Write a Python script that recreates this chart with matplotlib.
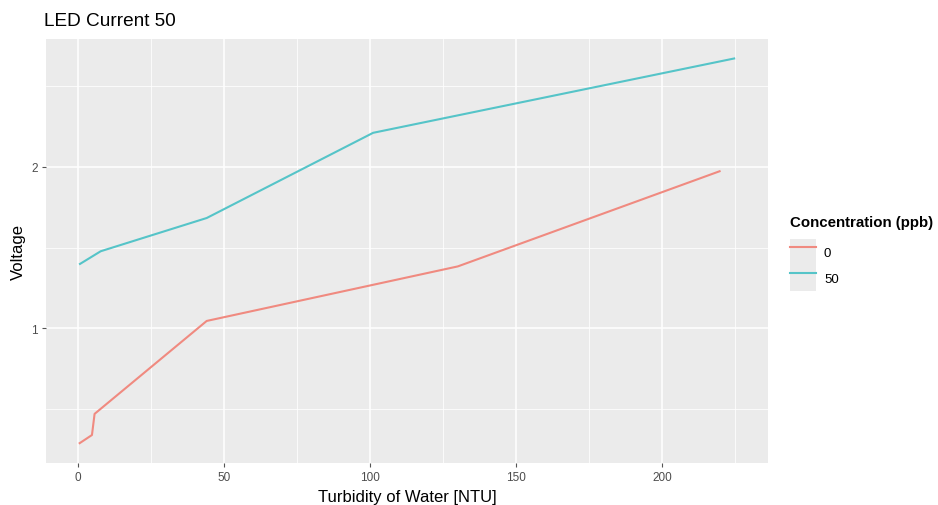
import matplotlib.pyplot as plt
from matplotlib.patches import Rectangle
from matplotlib.lines import Line2D
from matplotlib.legend_handler import HandlerTuple

# turbidity [NTU] and voltage
turb_0 = [0.2, 4.7, 5.6, 44, 130, 220]
volt_0 = [0.284, 0.338, 0.469, 1.045, 1.383, 1.975]
turb_50 = [0.3, 7.7, 44, 101, 225]
volt_50 = [1.395, 1.477, 1.683, 2.211, 2.673]

series_labels = ["0", "50"]
series_colors = ["#F08A80", "#55C4C8"]

x_ticks = [0, 50, 100, 150, 200]
x_minor = [25, 75, 125, 175, 225]
y_ticks = [1, 2]
y_minor = [0.5, 1.5, 2.5]

plt.rcParams['font.family'] = ['Liberation Sans', 'DejaVu Sans']

fig = plt.figure(figsize=(9.38, 5.06), dpi=100)
ax = fig.add_axes([46 / 938, 42 / 506, 722 / 938, 424 / 506])
ax.set_facecolor("#EBEBEB")

# ------ LINES -------
lines = []
for xs, ys, col in [(turb_0, volt_0, series_colors[0]), (turb_50, volt_50, series_colors[1])]:
    ln, = ax.plot(xs, ys, color=col, lw=1.5, solid_capstyle="butt", zorder=3)
    lines.append(ln)

ax.margins(x=0.05, y=0.05)

# ------ GRID / TICKS (ggplot grey theme look) -------
ax.set_xticks(x_ticks)
ax.set_xticks(x_minor, minor=True)
ax.set_yticks(y_ticks)
ax.set_yticks(y_minor, minor=True)
ax.set_yticklabels([str(v) for v in y_ticks])
ax.grid(which="major", color="white", lw=1.1, zorder=1)
ax.grid(which="minor", color="white", lw=0.55, zorder=1)
ax.set_axisbelow(True)
for sp in ax.spines.values():
    sp.set_visible(False)
ax.tick_params(which="major", length=3, width=0.8, color="#555555",
               labelsize=8.5, labelcolor="#4D4D4D", pad=3)
ax.tick_params(which="minor", length=0)

ax.set_xlabel("Turbidity of Water [NTU]", fontsize=12, labelpad=4)
ax.set_ylabel("Voltage", fontsize=12, labelpad=3.5)
fig.text(44 / 938, 1 - 22 / 506, "LED Current 50", fontsize=13.7, va="center", ha="left")

# ------ LEGEND -------
handles = []
for ln in lines:
    bg = Rectangle((0, 0), 1, 1, facecolor="#EBEBEB", edgecolor="none")
    key = Line2D([], [], color=ln.get_color(), lw=1.5)
    handles.append((bg, key))

leg = fig.legend(
    handles, series_labels,
    handler_map={tuple: HandlerTuple(ndivide=1, pad=0)},
    title="Concentration (ppb)",
    title_fontproperties={"weight": "bold", "size": 10.8},
    fontsize=9.5,
    loc="upper left",
    bbox_to_anchor=(790 / 938, 1 - 216 / 506),
    frameon=False,
    alignment="left",
    handlelength=1.97,
    handleheight=2.65,
    handletextpad=0.6,
    labelspacing=0.0,
    borderpad=0,
    borderaxespad=0,
)
leg._legend_box.sep = 7

fig.savefig("out.png", dpi=100)
